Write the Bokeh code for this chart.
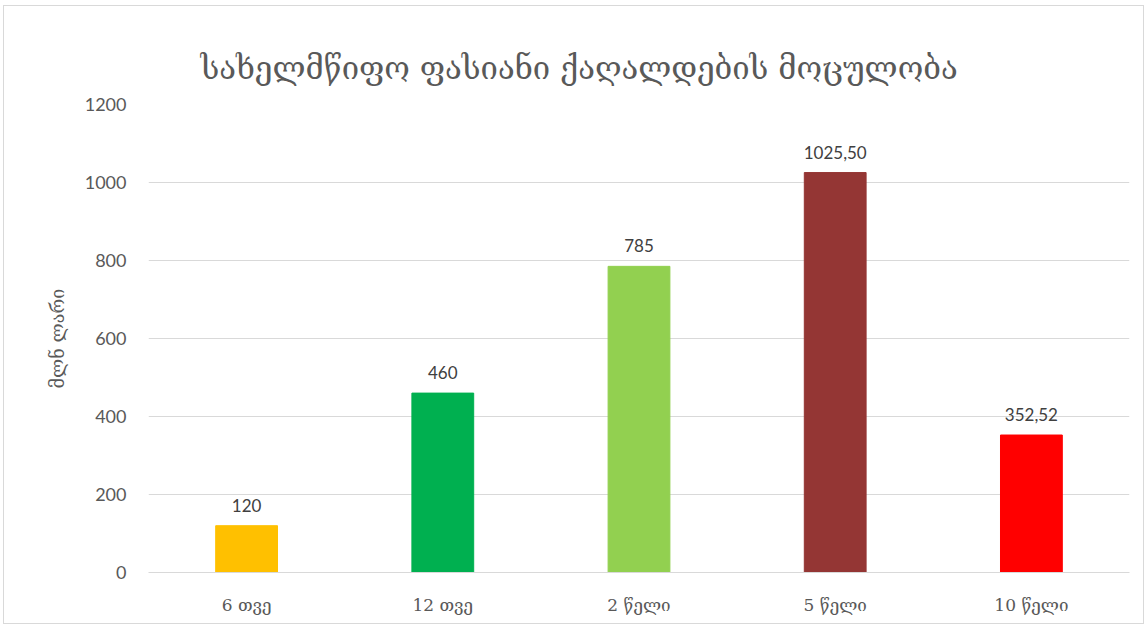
from bokeh.plotting import figure
from bokeh.models import ColumnDataSource, Range1d, LabelSet
from bokeh.core.properties import value
from bokeh.embed import file_html
from bokeh.resources import INLINE

categories = ["6 თვე", "12 თვე", "2 წელი", "5 წელი", "10 წელი"]
values = [120, 460, 785, 1025.50, 352.52]
value_labels = ["120", "460", "785", "1025,50", "352,52"]
colors = ["#FFC000", "#00B050", "#92D050", "#943634", "#FF0000"]
title_text = "სახელმწიფო ფასიანი ქაღალდების მოცულობა"
y_title = "მლნ ლარი"

src = ColumnDataSource(dict(cat=categories, val=values, lab=value_labels, col=colors))

p = figure(x_range=categories, y_range=Range1d(0, 1200), width=1141, height=619,
           output_backend="svg", toolbar_location=None,
           min_border_left=144, min_border_right=16, min_border_top=98, min_border_bottom=53)
p.styles = {"border": "1px solid #d9d9d9", "margin-left": "3px", "margin-top": "5px"}
p.outline_line_color = None
p.vbar(x="cat", top="val", width=0.315, color="col", source=src)

p.add_layout(LabelSet(x="cat", y="val", text="lab", source=src, text_align="center",
                      text_baseline="bottom", y_offset=14, text_font_size="17px",
                      text_color="#404040", text_font=value("Lato")))

p.title.text = title_text
p.title.align = "left"
p.title.offset = 52
p.title.text_font = "DejaVu Serif"
p.title.text_font_size = "31px"
p.title.text_font_style = "normal"
p.title.text_color = "#595959"
p.title.standoff = 33
p.title.vertical_align = "top"

p.xgrid.grid_line_color = None
p.ygrid.grid_line_color = "#d9d9d9"
p.yaxis.ticker = [0, 200, 400, 600, 800, 1000, 1200]
p.yaxis.axis_line_color = None
p.yaxis.major_tick_line_color = None
p.yaxis.minor_tick_line_color = None
p.yaxis.major_label_text_font_size = "18px"
p.yaxis.major_label_text_color = "#595959"
p.yaxis.major_label_text_font = "Lato"
p.yaxis.major_label_standoff = 16
p.yaxis.axis_label = y_title
p.yaxis.axis_label_text_font_size = "18px"
p.yaxis.axis_label_text_font_style = "normal"
p.yaxis.axis_label_text_color = "#595959"
p.yaxis.axis_label_text_font = "DejaVu Serif"
p.yaxis.axis_label_standoff = 14

p.xaxis.axis_line_color = "#d9d9d9"
p.xaxis.major_tick_line_color = None
p.xaxis.minor_tick_line_color = None
p.xaxis.major_label_text_font_size = "17px"
p.xaxis.major_label_text_color = "#595959"
p.xaxis.major_label_text_font = "DejaVu Serif"
p.xaxis.major_label_standoff = 16

open("out.html", "w").write(file_html(p, INLINE))
